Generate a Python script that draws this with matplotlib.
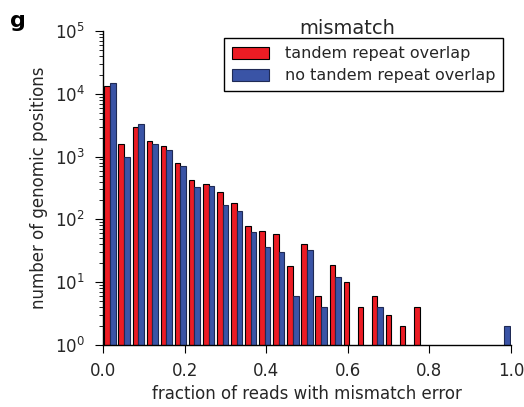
import numpy as np
import matplotlib
matplotlib.use("Agg")
import matplotlib.pyplot as plt
from matplotlib.patches import Patch
from matplotlib.ticker import FormatStrFormatter, LogLocator

# 29 equal bins across [0, 1]
n_bins = 29
tandem = [13300, 1600, 2960, 1790, 1475, 800, 424, 366, 276, 180,
          79, 65, 59, 18, 40, 6, 19, 10, 4, 6,
          3, 2, 4, 0, 0, 0, 0, 0, 0]
no_tandem = [14700, 1000, 3300, 1600, 1270, 716, 328, 344, 171, 138,
             63, 36, 30, 6, 33, 4, 12, 0, 0, 4,
             0, 0, 0, 0, 0, 0, 0, 0, 2]
labels = ["tandem repeat overlap", "no tandem repeat overlap"]
red = "#ec1c24"
blue = "#3a54a6"

fig = plt.figure(figsize=(5.24, 4.07), dpi=100)
ax = fig.add_axes([103/524, 1-345/407, 408/524, 314/407])

edges = np.linspace(0, 1, n_bins + 1)
w = edges[1] - edges[0]
t = np.array(tandem, float)
nt = np.array(no_tandem, float)
mt = t > 0
mn = nt > 0
ax.bar(edges[:-1][mt] + 0.1*w, t[mt], width=0.4*w, align="edge", bottom=1e-3,
       color=red, edgecolor="black", linewidth=0.8)
ax.bar(edges[:-1][mn] + 0.5*w, nt[mn], width=0.4*w, align="edge", bottom=1e-3,
       color=blue, edgecolor="#1f2a55", linewidth=0.8)

ax.set_yscale("log")
ax.set_ylim(1, 1e5)
ax.set_xlim(0, 1)
ax.set_xticks([0, 0.2, 0.4, 0.6, 0.8, 1.0])
ax.xaxis.set_major_formatter(FormatStrFormatter("%.1f"))
ax.yaxis.set_major_locator(LogLocator(base=10, numticks=10))
ax.yaxis.set_minor_locator(LogLocator(base=10, subs=np.arange(2, 10), numticks=20))
for s in ["top", "right"]:
    ax.spines[s].set_visible(False)
ax.spines["left"].set_linewidth(1.0)
ax.spines["bottom"].set_linewidth(1.0)
txtc = "#262626"
ax.tick_params(axis="both", which="major", direction="out", length=6, labelsize=12,
               pad=7, top=False, right=False, labelcolor=txtc)
ax.tick_params(axis="x", which="major", pad=6)
ax.tick_params(axis="both", which="minor", direction="out", length=3, top=False, right=False)
ax.set_xlabel("fraction of reads with mismatch error", fontsize=12, color=txtc, labelpad=4)
ax.set_ylabel("number of genomic positions", fontsize=12, color=txtc, labelpad=5)

handles = [Patch(facecolor=red, edgecolor="black", linewidth=0.8),
           Patch(facecolor=blue, edgecolor="#1f2a55", linewidth=0.8)]
leg = ax.legend(handles, labels, loc="upper right", bbox_to_anchor=(0.981, 0.977),
                fontsize=11.5, fancybox=False, framealpha=1, edgecolor="black",
                handlelength=2.3, handleheight=0.8, borderpad=0.5, labelspacing=0.45,
                handletextpad=1.0, borderaxespad=0)
leg.get_frame().set_linewidth(1.0)
for tx in leg.get_texts():
    tx.set_color(txtc)

fig.text(347/524, 1-34/407, "mismatch", ha="center", va="baseline", fontsize=14, color=txtc)
fig.text(10/524, 1-27/407, "g", ha="left", va="baseline", fontsize=16, fontweight="bold")

fig.savefig("out.png", dpi=100)
